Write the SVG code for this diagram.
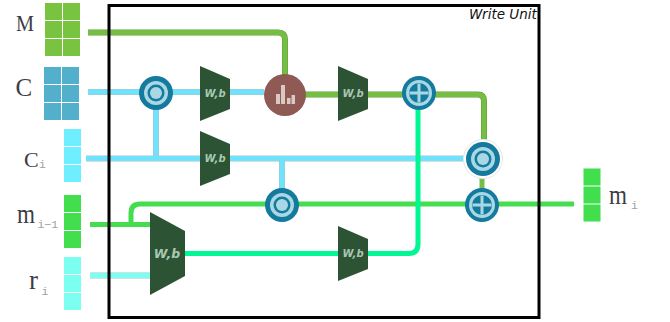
<svg xmlns="http://www.w3.org/2000/svg" width="670" height="322" viewBox="0 0 670 322">
<style>
.c{fill:none;stroke-linejoin:round}
.w5{stroke-width:5}
.edge{stroke:#b4c0c0;stroke-width:6;fill:none}
.eg{stroke:#5f9c3a;stroke-width:6;fill:none}
.g1{stroke:#76bd43}.b1{stroke:#6fe3fd}.g2{stroke:#45dd4f}.s1{stroke:#00f794}.t1{stroke:#7bfff0}
.tr{fill:#2d5335}
.wb{font:italic bold 10px "DejaVu Sans",sans-serif;fill:#a9c8b2;text-anchor:middle}
.lab{font-family:"Liberation Serif","DejaVu Serif",serif;fill:#3c3c46}
.sub{font-family:"Liberation Mono","DejaVu Sans Mono",monospace;fill:#a0a0a0;font-size:11.500px}
.ring{fill:#147a9e}.lt{fill:#a9d8e4}
.cellM{fill:#78c440}.cellC{fill:#52b0cd}.cellCi{fill:#6feeff}.cellG{fill:#43de4d}.cellR{fill:#7cfff0}
</style>
<defs>
<g id="dot"><circle r="17" class="ring"/><circle r="12" class="lt"/><circle r="8.500" class="ring"/><circle r="6" class="lt"/></g>
<g id="plus"><circle r="17" class="ring"/><circle r="13" class="lt"/><circle r="10" class="ring"/><path d="M-9.500 0H9.500M0-9.500V9.500" stroke="#a9d8e4" stroke-width="3" fill="none"/></g>
<path id="trap" d="M0 0L30 13V43L0 55Z"/>
<g id="col"><rect width="17" height="17"/><rect y="18" width="17" height="17"/><rect y="36" width="17" height="17"/></g>
</defs>

<g id="connectors" class="c">
<path class="eg" d="M88 32.500H278Q285 32.500 285 39.500V75"/>
<path class="c w5 g1" d="M88 32.500H278Q285 32.500 285 39.500V75"/>
<path class="edge" d="M88 92H264"/><path class="c w5 b1" d="M88 92H264"/>
<path class="edge" d="M156 93V158"/><path class="c w5 b1" d="M156 93V158"/>
<path class="edge" d="M86 158.500H470"/><path class="c w5 b1" d="M86 158.500H470"/>
<path class="edge" d="M282 158V190"/><path class="c w5 b1" d="M282 158V190"/>
<path class="eg" d="M305 94.500H478Q484 94.500 484 101V143"/>
<path class="c w5 g1" d="M305 94.500H478Q484 94.500 484 101V143"/>
<path class="c w5 g1" d="M482 175V190"/>
<path class="c w5 g2" d="M131 224V213Q131 204 140 204H574"/>
<path class="c w5 g2" d="M90 224.500H152"/>
<path class="edge" d="M90 275.500H152"/><path class="c w5 t1" d="M90 275.500H152"/>
<path class="c w5 s1" d="M183 253.500H409Q418 253.500 418 244V108"/>
</g>

<rect id="frame" x="109" y="5.500" width="430" height="312" fill="none" stroke="#000" stroke-width="3"/>
<text id="title" x="469" y="18.500" font-family="DejaVu Sans,sans-serif" font-style="italic" font-size="13.500" fill="#111">Write Unit</text>

<g id="in-M">
<g class="cellM"><use href="#col" x="45" y="3"/><use href="#col" x="63" y="3"/></g>
<text class="lab" x="16" y="31" font-size="24" textLength="18" lengthAdjust="spacingAndGlyphs">M</text>
</g>
<g id="in-C">
<g class="cellC"><use href="#col" x="44" y="67"/><use href="#col" x="62" y="67"/></g>
<text class="lab" x="15.500" y="96" font-size="25">C</text>
</g>
<g id="in-Ci">
<use href="#col" class="cellCi" x="64" y="129"/>
<text class="lab" x="24" y="167" font-size="22">C</text><text class="sub" x="39" y="168">i</text>
</g>
<g id="in-m">
<use href="#col" class="cellG" x="64" y="195"/>
<text class="lab" x="17" y="222.500" font-size="27" textLength="18" lengthAdjust="spacingAndGlyphs">m</text><text class="sub" x="37.500" y="228">i−1</text>
</g>
<g id="in-r">
<use href="#col" class="cellR" x="64" y="257"/>
<text class="lab" x="29" y="289" font-size="27" font-weight="400">r</text><text class="sub" x="41.500" y="295">i</text>
</g>
<g id="out-m">
<use href="#col" class="cellG" x="583.500" y="168.500"/>
<text class="lab" x="609" y="204" font-size="27" textLength="18" lengthAdjust="spacingAndGlyphs">m</text><text class="sub" x="631" y="209">i</text>
</g>

<g id="op-dot1"><use href="#dot" x="156" y="93"/></g>
<g id="w1"><use href="#trap" class="tr" x="200" y="66"/><text class="wb" x="215" y="97">W,b</text></g>
<g id="w2"><use href="#trap" class="tr" x="200" y="131"/><text class="wb" x="215" y="162">W,b</text></g>
<g id="softmax"><circle cx="285" cy="95" r="21" fill="#8f5a54"/>
<g fill="#d9c9c2"><rect x="276" y="94" width="4" height="10"/><rect x="281" y="85" width="4" height="19"/><rect x="287" y="98" width="3.500" height="6"/><rect x="291.500" y="95" width="3.500" height="9"/></g></g>
<g id="w3"><use href="#trap" class="tr" x="338" y="66"/><text class="wb" x="353" y="97">W,b</text></g>
<g id="op-plus1"><use href="#plus" x="419" y="93"/></g>
<g id="op-dot3"><circle cx="483" cy="159" r="19.500" fill="#fff" stroke="#e2e8e8"/><use href="#dot" x="483" y="159"/></g>
<g id="op-dot2"><use href="#dot" x="282" y="205"/></g>
<g id="op-plus2"><use href="#plus" x="482" y="205"/></g>
<g id="w4"><path class="tr" d="M150 212L185 231V276L150 295Z"/><text class="wb" x="167" y="258" style="font-size:12.500px">W,b</text></g>
<g id="w5"><use href="#trap" class="tr" x="338" y="226"/><text class="wb" x="353" y="257">W,b</text></g>
</svg>
